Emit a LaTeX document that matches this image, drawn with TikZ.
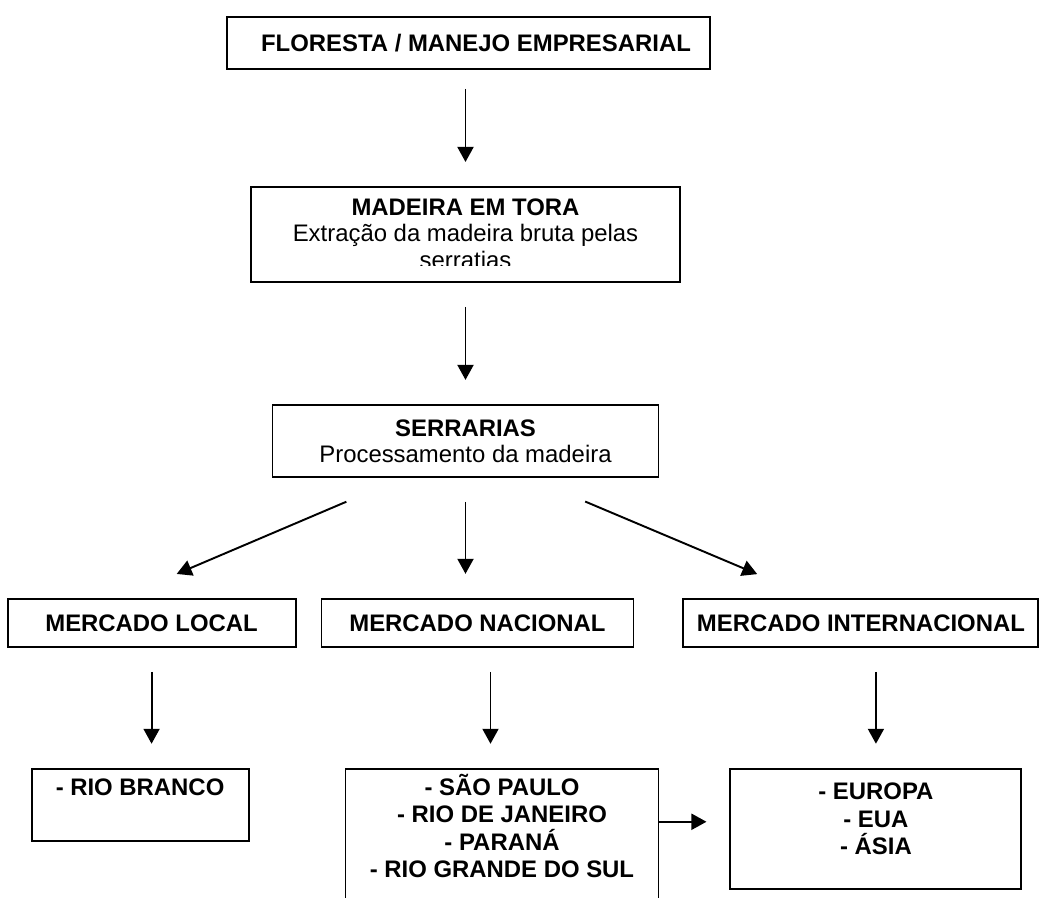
\documentclass[tikz,border=0pt]{standalone}
\usepackage{fontspec}
\setmainfont{Liberation Sans}
\usetikzlibrary{positioning, arrows.meta}

\tikzset{
  box/.style={draw, line width=1.1pt, inner sep=0pt, font=\fontsize{13.6}{15.6}\selectfont\bfseries},
  txt/.style={inner sep=0pt, align=center, font=\fontsize{13.6}{15}\selectfont},
  flow/.style={-{Triangle[length=0.3cm, width=0.32cm]}, line width=1.1pt, shorten <=0.48cm, shorten >=0.48cm},
  diag/.style={shorten <=1.22cm, shorten >=1.22cm}
}

\begin{document}
\begin{tikzpicture}
\useasboundingbox (0,0) rectangle (20.8,-17.96);

\node[box, minimum width=9.66cm, minimum height=1.04cm] (floresta) at (9.37,-0.86) {\hspace{0.3cm}FLORESTA / MANEJO EMPRESARIAL};
\node[box, minimum width=8.58cm, minimum height=1.9cm] (tora) [below=2.32cm of floresta, xshift=-0.06cm] {};
\begin{scope}
  \clip (tora.north west) rectangle ([yshift=0.34cm]tora.south east);
  \node[txt, text depth=0pt, yshift=0.02cm] (toratxt) at (tora) {\textbf{MADEIRA EM TORA}\\Extração da madeira bruta pelas\\serratias};
\end{scope}
\node[box, txt, text depth=0pt, minimum width=7.72cm, minimum height=1.44cm] (serr) [below=2.42cm of tora] {\textbf{SERRARIAS}\\Processamento da madeira};

% mercados
\node[box, minimum width=6.24cm, minimum height=0.96cm] (nac) [below=2.4cm of serr, xshift=0.24cm] {MERCADO NACIONAL};
\node[box, minimum width=5.76cm, minimum height=0.96cm] (local) [left=0.48cm of nac] {MERCADO LOCAL};
\node[box, minimum width=7.1cm, minimum height=0.96cm] (intl) [right=0.96cm of nac] {MERCADO INTERNACIONAL};

% destinos
\node[box, minimum width=4.34cm, text height=0.54cm, text depth=0.9cm] (rb) [below=2.4cm of local, xshift=-0.23cm] {- RIO BRANCO};
\node[box, align=center, minimum width=6.26cm, text height=2.18cm, text depth=1.08cm] (estados) [below=2.4cm of nac, xshift=0.49cm] {- SÃO PAULO\\- RIO DE JANEIRO\\- PARANÁ\\- RIO GRANDE DO SUL};
\node[box, align=center, minimum width=5.82cm, text height=1.72cm, text depth=0.68cm] (paises) [below=2.4cm of intl, xshift=0.3cm] {- EUROPA\\- EUA\\- ÁSIA};

\coordinate (nacout) at ([xshift=0.26cm]nac.south);
\coordinate (estout) at ([yshift=-1.08cm]estados.north east);

\path[flow]
  (floresta.south -| tora.north) edge[shorten <=0.38cm] (tora.north)
  (serr.north |- tora.south) edge (serr.north)
  ([xshift=-1.26cm]serr.south) edge[diag] ([xshift=-0.62cm]local.north)
  (serr.south) edge (serr.south |- nac.north)
  ([xshift=1.27cm]serr.south) edge[diag] ([xshift=-0.95cm]intl.north)
  (local.south) edge (local.south |- rb.north)
  (nacout) edge (nacout |- estados.north)
  (intl.south -| paises.north) edge (paises.north)
  (estout) edge[shorten <=0pt, shorten >=0.46cm] (estout -| paises.west);
\end{tikzpicture}
\end{document}
